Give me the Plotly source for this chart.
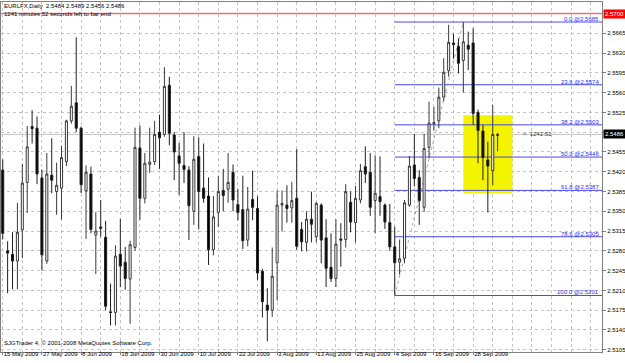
import plotly.graph_objects as go

# ---------------- data ----------------
opens = [2.5423, 2.5280, 2.5274, 2.5262, 2.5317, 2.5401, 2.5500, 2.5497, 2.5409, 2.5262,
         2.5414, 2.5385, 2.5391, 2.5438, 2.5510, 2.5542, 2.5497, 2.5386, 2.5416, 2.5308,
         2.5322, 2.5304, 2.5172, 2.5171, 2.5274, 2.5260, 2.5230, 2.5286, 2.5462, 2.5373,
         2.5433, 2.5438, 2.5490, 2.5486, 2.5573, 2.5485, 2.5448, 2.5431, 2.5423, 2.5350,
         2.5447, 2.5391, 2.5377, 2.5282, 2.5348, 2.5387, 2.5389, 2.5419, 2.5362, 2.5353,
         2.5299, 2.5371, 2.5355, 2.5244, 2.5184, 2.5175, 2.5259, 2.5361, 2.5361, 2.5356,
         2.5373, 2.5318, 2.5295, 2.5336, 2.5305, 2.5361, 2.5303, 2.5251, 2.5231, 2.5301,
         2.5300, 2.5366, 2.5330, 2.5370, 2.5429, 2.5419, 2.5369, 2.5376, 2.5361, 2.5330,
         2.5287, 2.5260, 2.5267, 2.5361, 2.5432, 2.5410, 2.5357, 2.5463, 2.5505, 2.5510,
         2.5552, 2.5599, 2.5648, 2.5642, 2.5617, 2.5644, 2.5648, 2.5525, 2.5492, 2.5441,
         2.5422, 2.5484]
highs = [2.5442, 2.5297, 2.5313, 2.5365, 2.5434, 2.5501, 2.5529, 2.5518, 2.5424, 2.5453,
         2.5479, 2.5436, 2.5466, 2.5512, 2.5572, 2.5658, 2.5500, 2.5431, 2.5429, 2.5349,
         2.5370, 2.5333, 2.5222, 2.5290, 2.5337, 2.5287, 2.5298, 2.5498, 2.5502, 2.5453,
         2.5498, 2.5510, 2.5521, 2.5605, 2.5588, 2.5490, 2.5471, 2.5490, 2.5430, 2.5483,
         2.5481, 2.5470, 2.5410, 2.5377, 2.5413, 2.5425, 2.5453, 2.5433, 2.5389, 2.5413,
         2.5393, 2.5422, 2.5377, 2.5248, 2.5214, 2.5286, 2.5387, 2.5387, 2.5396, 2.5402,
         2.5460, 2.5331, 2.5350, 2.5385, 2.5366, 2.5364, 2.5336, 2.5311, 2.5336, 2.5329,
         2.5398, 2.5385, 2.5395, 2.5434, 2.5465, 2.5453, 2.5449, 2.5447, 2.5364, 2.5363,
         2.5323, 2.5300, 2.5370, 2.5448, 2.5487, 2.5423, 2.5487, 2.5544, 2.5535, 2.5569,
         2.5621, 2.5680, 2.5664, 2.5656, 2.5685, 2.5668, 2.5674, 2.5530, 2.5503, 2.5473,
         2.5538, 2.5489]
lows = [2.5300, 2.5205, 2.5212, 2.5212, 2.5267, 2.5347, 2.5470, 2.5398, 2.5245, 2.5257,
        2.5382, 2.5344, 2.5335, 2.5430, 2.5505, 2.5490, 2.5382, 2.5301, 2.5311, 2.5239,
        2.5305, 2.5175, 2.5148, 2.5148, 2.5216, 2.5211, 2.5151, 2.5280, 2.5335, 2.5364,
        2.5418, 2.5432, 2.5425, 2.5482, 2.5467, 2.5405, 2.5379, 2.5400, 2.5299, 2.5326,
        2.5318, 2.5365, 2.5255, 2.5272, 2.5322, 2.5350, 2.5365, 2.5350, 2.5334, 2.5283,
        2.5288, 2.5334, 2.5228, 2.5162, 2.5120, 2.5163, 2.5192, 2.5314, 2.5330, 2.5330,
        2.5282, 2.5279, 2.5279, 2.5295, 2.5295, 2.5258, 2.5216, 2.5225, 2.5216, 2.5252,
        2.5286, 2.5313, 2.5295, 2.5364, 2.5400, 2.5342, 2.5311, 2.5342, 2.5319, 2.5280,
        2.5201, 2.5238, 2.5258, 2.5358, 2.5394, 2.5326, 2.5349, 2.5444, 2.5493, 2.5497,
        2.5545, 2.5588, 2.5620, 2.5594, 2.5560, 2.5600, 2.5503, 2.5435, 2.5405, 2.5348,
        2.5396, 2.5456]
closes = [2.5311, 2.5276, 2.5262, 2.5313, 2.5400, 2.5464, 2.5496, 2.5416, 2.5273, 2.5416,
          2.5405, 2.5396, 2.5445, 2.5510, 2.5536, 2.5497, 2.5397, 2.5419, 2.5318, 2.5315,
          2.5320, 2.5182, 2.5171, 2.5271, 2.5253, 2.5231, 2.5291, 2.5463, 2.5373, 2.5435,
          2.5437, 2.5486, 2.5480, 2.5571, 2.5488, 2.5455, 2.5435, 2.5424, 2.5360, 2.5442,
          2.5385, 2.5373, 2.5282, 2.5340, 2.5385, 2.5378, 2.5401, 2.5370, 2.5348, 2.5298,
          2.5354, 2.5357, 2.5241, 2.5190, 2.5175, 2.5235, 2.5361, 2.5364, 2.5355, 2.5369,
          2.5288, 2.5296, 2.5336, 2.5327, 2.5364, 2.5299, 2.5249, 2.5231, 2.5292, 2.5299,
          2.5385, 2.5331, 2.5373, 2.5422, 2.5416, 2.5357, 2.5382, 2.5367, 2.5331, 2.5287,
          2.5259, 2.5266, 2.5365, 2.5430, 2.5408, 2.5369, 2.5461, 2.5506, 2.5507, 2.5552,
          2.5596, 2.5649, 2.5645, 2.5612, 2.5650, 2.5637, 2.5523, 2.5493, 2.5445, 2.5430,
          2.5486, 2.5486]

date_labels = ["15 May 2009", "27 May 2009", "8 Jun 2009", "18 Jun 2009", "30 Jun 2009",
               "10 Jul 2009", "22 Jul 2009", "3 Aug 2009", "13 Aug 2009", "25 Aug 2009",
               "4 Sep 2009", "16 Sep 2009", "28 Sep 2009"]
bars_per_label = 8

price_ticks = [2.5105, 2.5140, 2.5175, 2.5210, 2.5245, 2.5280, 2.5315, 2.5350, 2.5385,
               2.5420, 2.5455, 2.5490, 2.5525, 2.5560, 2.5595, 2.5630, 2.5665]

alert_price = 2.5700
current_price = 2.5486

fib_levels = [0.0, 23.6, 38.2, 50.0, 61.8, 78.6, 100.0]
fib_prices = [2.5685, 2.5574, 2.5503, 2.5446, 2.5387, 2.5305, 2.5201]
fib_anchor_bars = [80, 94]          # low bar, high bar
fib_anchor_prices = [2.5201, 2.5685]

box_bars = [94, 104]
box_prices = [2.5382, 2.5520]

header_line1 = "EURLFX,Daily  2.5484 2.5489 2.5456 2.5486"
header_line2 = "1241 minutes 52 seconds left to bar end"
timer_text = "<  1241:52"
timer_bar = 106
copyright_text = "SJGTrader 4, \u00a9 2001-2008 MetaQuotes Software Corp."

# ---------------- figure ----------------
FONT = "Liberation Sans, Arial, sans-serif"
x = list(range(len(opens)))
x_range = [-0.35, 122.3]
y_range = [2.51010, 2.57204]

fig = go.Figure()
fig.add_trace(go.Candlestick(
    x=x, open=opens, high=highs, low=lows, close=closes,
    increasing=dict(line=dict(color="#3a3a3a", width=1), fillcolor="#ffffff"),
    decreasing=dict(line=dict(color="#202020", width=1), fillcolor="#000000"),
    whiskerwidth=0, hoverinfo="skip", showlegend=False,
))

shapes = []
shapes.append(dict(type="rect", xref="x", yref="y", x0=box_bars[0], x1=box_bars[1],
                   y0=box_prices[0], y1=box_prices[1], fillcolor="#f4f400",
                   line=dict(width=0), layer="between"))
shapes.append(dict(type="line", xref="paper", yref="y", x0=0, x1=1, y0=alert_price,
                   y1=alert_price, line=dict(color="#ee7070", width=1.5), layer="between"))
shapes.append(dict(type="line", xref="paper", yref="y", x0=0, x1=1, y0=current_price,
                   y1=current_price, line=dict(color="#cbc4c4", width=1), layer="between"))
for p in fib_prices:
    shapes.append(dict(type="line", xref="x", yref="y", x0=fib_anchor_bars[0], x1=x_range[1],
                       y0=p, y1=p, line=dict(color="#4848f0", width=1), layer="between"))
shapes.append(dict(type="line", xref="x", yref="y", x0=fib_anchor_bars[0], x1=fib_anchor_bars[1],
                   y0=fib_anchor_prices[0], y1=fib_anchor_prices[1],
                   line=dict(color="#a8a8a8", width=1, dash="dot"), layer="between"))

annotations = []
for lvl, p in zip(fib_levels, fib_prices):
    annotations.append(dict(xref="paper", yref="y", x=0.997, y=p, xanchor="right",
                            yanchor="bottom", text=f"{lvl:.1f} @{p:.4f}", showarrow=False,
                            font=dict(family=FONT, size=6, color="#3030f0"),
                            borderpad=0, yshift=-1))
annotations.append(dict(xref="paper", yref="y", x=1, y=alert_price, xanchor="left",
                        yanchor="middle", text=f"{alert_price:.4f}", showarrow=False,
                        font=dict(family=FONT, size=6, color="#ffffff"), bgcolor="#ff0000",
                        borderpad=1, xshift=1))
annotations.append(dict(xref="paper", yref="y", x=1, y=current_price, xanchor="left",
                        yanchor="middle", text=f"{current_price:.4f}", showarrow=False,
                        font=dict(family=FONT, size=6, color="#ffffff"), bgcolor="#000000",
                        borderpad=1, xshift=1))
annotations.append(dict(xref="paper", yref="paper", x=0, y=1, xanchor="left", yanchor="middle",
                        text=header_line1, showarrow=False, yshift=-4, xshift=2,
                        font=dict(family=FONT, size=6, color="#000000"), borderpad=0))
annotations.append(dict(xref="paper", yref="paper", x=0, y=1, xanchor="left", yanchor="middle",
                        text=header_line2, showarrow=False, yshift=-12, xshift=2,
                        font=dict(family=FONT, size=6, color="#000000"), borderpad=0))
annotations.append(dict(xref="x", yref="y", x=timer_bar, y=current_price, xanchor="left",
                        yanchor="middle", text=timer_text, showarrow=False,
                        font=dict(family=FONT, size=6, color="#404040"), borderpad=0))
annotations.append(dict(xref="paper", yref="paper", x=0, y=0, xanchor="left", yanchor="middle",
                        text=copyright_text, showarrow=False, yshift=9, xshift=2,
                        font=dict(family=FONT, size=6, color="#000000"), borderpad=0))

# hide the axis label that sits under the current-price box
price_ticktext = ["" if abs(v - current_price) < 0.0008 else f"{v:.4f}" for v in price_ticks]

grid = dict(showgrid=True, gridcolor="#c4c4c4", griddash="dot", gridwidth=1)
fig.update_layout(
    width=625, height=363,
    margin=dict(l=1, r=23, t=2, b=11, pad=0),
    paper_bgcolor="#ffffff", plot_bgcolor="#ffffff",
    showlegend=False, boxgap=0.4,
    shapes=shapes, annotations=annotations,
    xaxis=dict(
        range=x_range, type="linear", rangeslider=dict(visible=False),
        tickmode="array",
        tickvals=[k * bars_per_label for k in range(len(date_labels))],
        ticktext=date_labels, ticks="outside", ticklen=2, tickcolor="#808080",
        ticklabelposition="outside right", tickangle=0, ticklabelstandoff=-4,
        tickfont=dict(family=FONT, size=6, color="#000000"),
        showline=True, mirror=True, linecolor="#808080", linewidth=1,
        zeroline=False, automargin=False,
        minor=dict(dtick=bars_per_label // 2, tick0=0, showgrid=True, gridcolor="#c4c4c4",
                   griddash="dot", ticks=""),
        **grid,
    ),
    yaxis=dict(
        range=y_range, side="right", tickmode="array", tickvals=price_ticks,
        ticktext=price_ticktext, ticks="outside", ticklen=3,
        tickcolor="#808080", tickfont=dict(family=FONT, size=6, color="#000000"),
        showline=True, mirror=True, linecolor="#808080", linewidth=1,
        zeroline=False, automargin=False,
        **grid,
    ),
)

fig.write_html("out.html")
